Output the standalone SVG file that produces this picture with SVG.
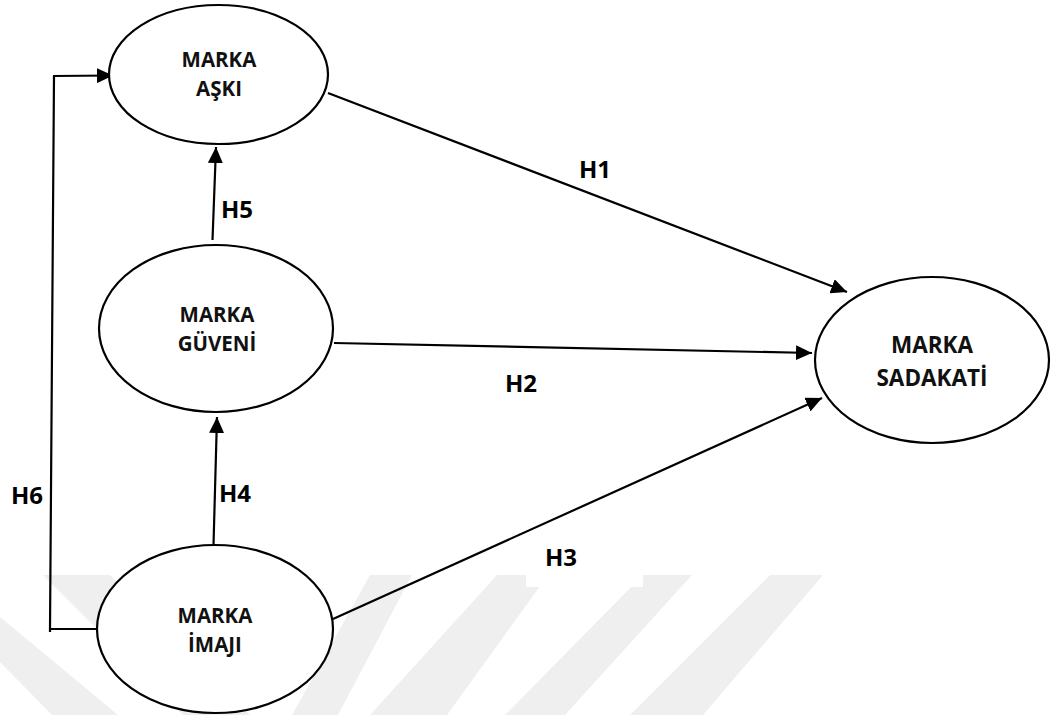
<svg xmlns="http://www.w3.org/2000/svg" width="1052" height="715" viewBox="0 0 1052 715">
<style>
.node ellipse{fill:#fff;stroke:#000;stroke-width:2.2}
.nt{font-family:"Open Sans","Liberation Sans",sans-serif;font-weight:700;font-size:20.5px;fill:#111;text-anchor:middle}
.big{font-size:22.5px}
.lbl{font-family:"Open Sans","Liberation Sans",sans-serif;font-weight:700;font-size:24px;fill:#000}
.edge{fill:none;stroke:#000;stroke-width:2.2}
.wm{fill:#efefef}
</style>
<defs>
<marker id="ah" markerUnits="userSpaceOnUse" markerWidth="17" markerHeight="15" refX="16" refY="7.5" orient="auto">
<path d="M0,0 L16,7.5 L0,15 z" fill="#000"/>
</marker>
</defs>
<rect x="0" y="0" width="1052" height="715" fill="#fff"/>
<g id="watermark">
<polygon class="wm" points="0,617 118,715 52,715 0,662"/>
<polygon class="wm" points="43,575 110,575 250,715 183,715"/>
<polygon class="wm" points="370,575 412,575 338,715 292,715"/>
<polygon class="wm" points="497,575 548,575 447,715 370,715"/>
<polygon class="wm" points="643,575 692,575 565,715 505,715"/>
<polygon class="wm" points="770,575 823,575 703,715 630,715"/>
<rect x="526" y="575" width="117" height="12" fill="#fff"/>
</g>
<g id="connectors">
<polyline class="edge" points="97,629 50,629 50,632 50,629 54,76"/>
<line class="edge" x1="53" y1="76" x2="113" y2="75.5" marker-end="url(#ah)"/>
<line class="edge" x1="212.5" y1="240" x2="216" y2="147" marker-end="url(#ah)"/>
<line class="edge" x1="213.5" y1="545" x2="217" y2="417" marker-end="url(#ah)"/>
<line class="edge" x1="328" y1="93" x2="847" y2="292" marker-end="url(#ah)"/>
<line class="edge" x1="334" y1="343" x2="812" y2="353" marker-end="url(#ah)"/>
<line class="edge" x1="333" y1="619" x2="822" y2="398" marker-end="url(#ah)"/>
</g>
<g id="node-aski" class="node">
<ellipse cx="218.5" cy="74.5" rx="109.5" ry="69.5"/>
<text class="nt" x="219" y="67">MARKA</text>
<text class="nt" x="219" y="96">AŞKI</text>
</g>
<g id="node-guveni" class="node">
<ellipse cx="216" cy="328.5" rx="117" ry="83.5"/>
<text class="nt" x="217" y="322">MARKA</text>
<text class="nt" x="217" y="351">GÜVENİ</text>
</g>
<g id="node-imaji" class="node">
<ellipse cx="215" cy="629" rx="118" ry="84"/>
<text class="nt" x="215" y="623">MARKA</text>
<text class="nt" x="215" y="652">İMAJI</text>
</g>
<g id="node-sadakati" class="node">
<ellipse cx="932" cy="360" rx="117" ry="83"/>
<text class="nt big" x="932" y="353">MARKA</text>
<text class="nt big" x="932" y="386">SADAKATİ</text>
</g>
<g id="labels">
<text class="lbl" x="579" y="178">H1</text>
<text class="lbl" x="505" y="392">H2</text>
<text class="lbl" x="545" y="566">H3</text>
<text class="lbl" x="219" y="502">H4</text>
<text class="lbl" x="221" y="218">H5</text>
<text class="lbl" x="11" y="504">H6</text>
</g>
</svg>
